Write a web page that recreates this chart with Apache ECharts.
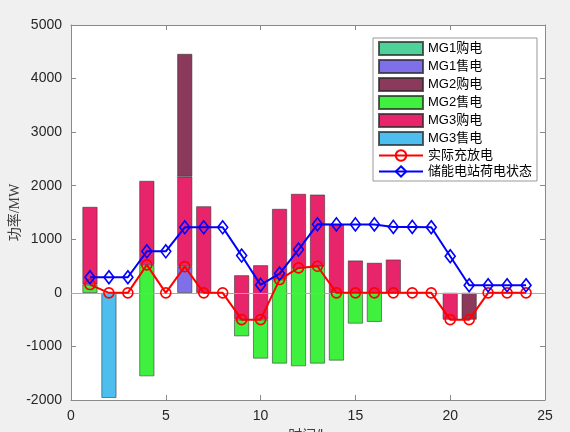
<!DOCTYPE html>
<html>
<head>
<meta charset="utf-8">
<script src="https://cdn.jsdelivr.net/npm/echarts@6/dist/echarts.min.js"></script>
<style>
html,body{margin:0;padding:0;background:#f0f0f0;}
#c{width:570px;height:432px;}
</style>
</head>
<body>
<div id="c"></div>
<script>
// hours
var hours = [1,2,3,4,5,6,7,8,9,10,11,12,13,14,15,16,17,18,19,20,21,22,23,24];
// 实际充放电 (bars stack from this level)
var charge = [155,0,0,522,0,490,0,0,-500,-500,248,466,497,0,0,0,0,0,0,-500,-500,0,0,0];
// 储能电站荷电状态
var soc = [291,291,291,776,776,1224,1224,1224,696,149,360,808,1280,1278,1278,1278,1231,1231,1225,683,142,142,142,142];
// MG exchange values
var mg1Buy  = [null,null,null,null,null,null,null,null,null,null,null,null,null,null,null,null,null,null,null,null,null,null,null,null];
var mg1Sell = [null,null,null,null,null,-490,null,null,null,null,null,null,null,null,null,null,null,null,null,null,null,null,null,null];
var mg2Buy  = [null,null,null,null,null,2290,null,null,null,null,null,null,null,null,null,null,null,null,null,null,500,null,null,null];
var mg2Sell = [-155,null,null,-2078,null,null,null,null,-310,-726,-1567,-1835,-1816,-1263,-573,-541,null,null,null,null,null,null,null,null];
var mg3Buy  = [1449,null,null,1568,null,1680,1616,null,828,1015,1319,1381,1337,1274,603,560,621,null,null,500,null,null,null,null];
var mg3Sell = [null,-1960,null,null,null,null,null,null,null,null,null,null,null,null,null,null,null,null,null,null,null,null,null,null];
// axis
var xMin = 0, xMax = 25, xStep = 5;
var yTicks = [-2000,-1000,0,1000,2000,3000,4000,5000];

var xCats = [];
for (var k = xMin; k <= xMax; k++) xCats.push(String(k));
function onAxis(arr){
  var out = xCats.map(function(){ return null; });
  hours.forEach(function(h, i){ out[h - xMin] = arr[i]; });
  return out;
}
// stacked data: missing values become invisible zero-height items so the stack chain stays intact
function stackItems(arr){
  return onAxis(arr).map(function(v){
    if (v === null || v === undefined) return {value: 0, itemStyle: {opacity: 0, borderWidth: 0}};
    return v;
  });
}

var font = "'Liberation Sans','Noto Sans CJK SC',sans-serif";
var edge = 'rgba(40,40,40,0.75)';
var axisGray = '#8a8a8a';
function barSeries(name, stack, arr, color){
  return {
    name: name, type: 'bar', stack: stack, stackStrategy: 'all',
    data: stackItems(arr), barWidth: 15, barGap: '-100%',
    itemStyle: {color: color, borderColor: edge, borderWidth: 0.7},
    emphasis: {disabled: true}
  };
}
function baseSeries(stack){
  return {
    name: 'base_' + stack, type: 'bar', stack: stack, stackStrategy: 'all',
    data: onAxis(charge).map(function(v){ return v === null ? 0 : v; }),
    barWidth: 15, barGap: '-100%', silent: true,
    itemStyle: {color: 'rgba(0,0,0,0)', borderWidth: 0},
    emphasis: {disabled: true}
  };
}

var chart = echarts.init(document.getElementById('c'), null, {renderer: 'canvas'});
var base1 = baseSeries('neg');
base1.markLine = {
  silent: true, symbol: 'none', animation: false,
  label: {show: false},
  lineStyle: {color: '#aaaaaa', type: 'solid', width: 1},
  data: [{yAxis: 0}]
};
var tickShow = function(idx){ return (idx % xStep) === 0; };
var option = {
  backgroundColor: '#f0f0f0',
  animation: false,
  grid: {left: 71, right: 25, top: 25, bottom: 32, show: true, backgroundColor: '#ffffff', borderWidth: 0, outerBoundsMode: 'none', containLabel: false},
  legend: {
    orient: 'vertical', left: 373, top: 38,
    itemWidth: 44, itemHeight: 13, itemGap: 3,
    backgroundColor: '#ffffff', borderColor: '#999999', borderWidth: 1,
    padding: [3, 5, 3, 5], borderRadius: 0,
    textStyle: {fontSize: 13, color: '#000', fontFamily: font},
    data: [
      {name: 'MG1购电', icon: 'rect'}, {name: 'MG1售电', icon: 'rect'},
      {name: 'MG2购电', icon: 'rect'}, {name: 'MG2售电', icon: 'rect'},
      {name: 'MG3购电', icon: 'rect'}, {name: 'MG3售电', icon: 'rect'},
      '实际充放电', '储能电站荷电状态'
    ]
  },
  xAxis: [{
    type: 'category', data: xCats, boundaryGap: false,
    name: '时间/h', nameLocation: 'middle', nameGap: 29, nameMoveOverlap: false,
    nameTextStyle: {fontSize: 14, color: '#404040', fontFamily: font},
    axisLine: {show: true, onZero: false, lineStyle: {color: axisGray}},
    axisTick: {show: true, inside: true, length: 5, interval: tickShow, lineStyle: {color: axisGray}},
    axisLabel: {fontSize: 14, color: '#262626', fontFamily: font, margin: 9, interval: tickShow},
    splitLine: {show: false}
  },{
    type: 'category', data: xCats, boundaryGap: false, position: 'top',
    axisLine: {show: true, onZero: false, lineStyle: {color: axisGray}},
    axisTick: {show: true, inside: true, length: 5, interval: tickShow, lineStyle: {color: axisGray}},
    axisLabel: {show: false}, splitLine: {show: false}
  }],
  yAxis: [{
    type: 'value', min: -2000, max: 5000, interval: 1000,
    name: '功率/MW', nameLocation: 'middle', nameGap: 49, nameMoveOverlap: false,
    nameTextStyle: {fontSize: 14, color: '#404040', fontFamily: "'Liberation Serif','Noto Sans CJK SC',serif"},
    axisLine: {show: true, lineStyle: {color: axisGray}},
    axisTick: {show: true, inside: true, length: 5, lineStyle: {color: axisGray}},
    axisLabel: {fontSize: 14, color: '#262626', fontFamily: font, margin: 9,
      formatter: function(v){ return yTicks.indexOf(v) >= 0 ? String(v) : ''; }},
    splitLine: {show: false}
  },{
    type: 'value', min: -2000, max: 5000, interval: 1000, position: 'right',
    axisLine: {show: true, lineStyle: {color: axisGray}},
    axisTick: {show: true, inside: true, length: 5, lineStyle: {color: axisGray}},
    axisLabel: {show: false}, splitLine: {show: false}
  }],
  series: [
    base1,
    barSeries('MG1售电', 'neg', mg1Sell, '#7f6fe8'),
    barSeries('MG2售电', 'neg', mg2Sell, '#3ff03f'),
    barSeries('MG3售电', 'neg', mg3Sell, '#4dbeee'),
    baseSeries('pos'),
    barSeries('MG1购电', 'pos', mg1Buy, '#4fd19a'),
    barSeries('MG3购电', 'pos', mg3Buy, '#e8256b'),
    barSeries('MG2购电', 'pos', mg2Buy, '#8b3a5c'),
    {
      name: '实际充放电', type: 'line', data: onAxis(charge), z: 5,
      symbol: 'circle', symbolSize: 10, showAllSymbol: true,
      lineStyle: {color: '#ff0000', width: 2},
      itemStyle: {color: 'rgba(255,255,255,0)', borderColor: '#ff0000', borderWidth: 1.6},
      emphasis: {disabled: true}
    },
    {
      name: '储能电站荷电状态', type: 'line', data: onAxis(soc), z: 6,
      symbol: 'diamond', symbolSize: [10, 13], showAllSymbol: true,
      lineStyle: {color: '#0000ff', width: 2},
      itemStyle: {color: 'rgba(255,255,255,0)', borderColor: '#0000ff', borderWidth: 1.6},
      emphasis: {disabled: true}
    }
  ]
};
chart.setOption(option);
</script>
</body>
</html>
